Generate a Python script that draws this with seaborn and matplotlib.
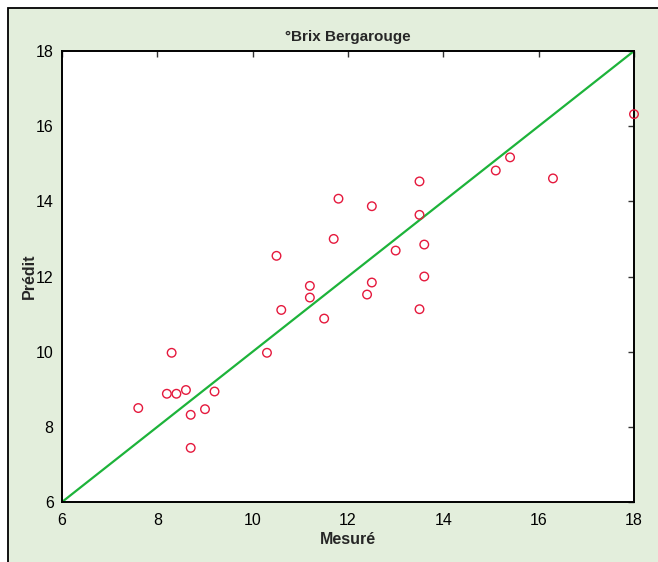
import matplotlib
matplotlib.use("Agg")
import matplotlib.pyplot as plt
from matplotlib.patches import Rectangle
import seaborn as sns
import pandas as pd

# Data
mesure = [7.6, 8.2, 8.4, 8.3, 8.6, 8.7, 8.7, 9.0, 9.2, 10.3, 10.5, 10.6,
          11.2, 11.2, 11.5, 11.7, 11.8, 12.4, 12.5, 12.5, 13.0, 13.5, 13.5,
          13.5, 13.6, 13.6, 15.1, 15.4, 16.3, 18.0]
predit = [8.5, 8.88, 8.88, 9.97, 8.98, 8.32, 7.44, 8.47, 8.94, 9.97, 12.55, 11.11,
          11.75, 11.44, 10.88, 13.0, 14.07, 11.52, 13.87, 11.84, 12.69, 14.53, 13.64,
          11.13, 12.85, 12.0, 14.82, 15.17, 14.61, 16.32]
identity = [6, 18]
x_ticks = [6, 8, 10, 12, 14, 16, 18]
y_ticks = [6, 8, 10, 12, 14, 16, 18]
title = "°Brix Bergarouge"
xlabel = "Mesuré"
ylabel = "Prédit"

df = pd.DataFrame({"Mesuré": mesure, "Prédit": predit})
line_df = pd.DataFrame({"x": identity, "y": identity})

sns.set_style("white")
plt.rcParams["font.family"] = ["Liberation Sans", "DejaVu Sans"]

fig = plt.figure(figsize=(6.58, 5.62), dpi=100)
fig.patch.set_facecolor("white")
bg = Rectangle((7.5 / 658, -0.05), 1.2, 1 - 7.5 / 562 + 0.05,
               transform=fig.transFigure, facecolor="#E3EEDC",
               edgecolor="black", linewidth=1.3, zorder=-10)
fig.patches.append(bg)

ax = fig.add_axes([62 / 658, 1 - 502 / 562, 572 / 658, 451 / 562])
ax.set_facecolor("white")

sns.lineplot(data=line_df, x="x", y="y", ax=ax, color="#1DB33A",
             linewidth=1.6, zorder=2)
sns.scatterplot(data=df, x="Mesuré", y="Prédit", ax=ax, marker="o",
                s=38, facecolor="none", edgecolor="#E5193D", linewidth=1.0,
                zorder=3, clip_on=False)

ax.set_xlim(6, 18)
ax.set_ylim(6, 18)
ax.set_xticks(x_ticks)
ax.set_yticks(y_ticks)
ax.set_xticklabels([str(t) for t in x_ticks])
ax.set_yticklabels([str(t) for t in y_ticks])
ax.tick_params(direction="in", length=4, width=1, color="#333333",
               top=True, right=True, labelsize=11.5, labelcolor="black")
ax.tick_params(axis="x", pad=8)
ax.tick_params(axis="y", pad=6)
for s in ax.spines.values():
    s.set_visible(True)
    s.set_color("black")
    s.set_linewidth(1.4)

ax.set_xlabel(xlabel, fontsize=11.5, fontweight="bold", labelpad=3)
ax.set_ylabel(ylabel, fontsize=11.5, fontweight="bold", labelpad=-1)
ax.set_title(title, fontsize=11, fontweight="bold", pad=7)

fig.savefig("out.png", dpi=100, facecolor=fig.get_facecolor())
